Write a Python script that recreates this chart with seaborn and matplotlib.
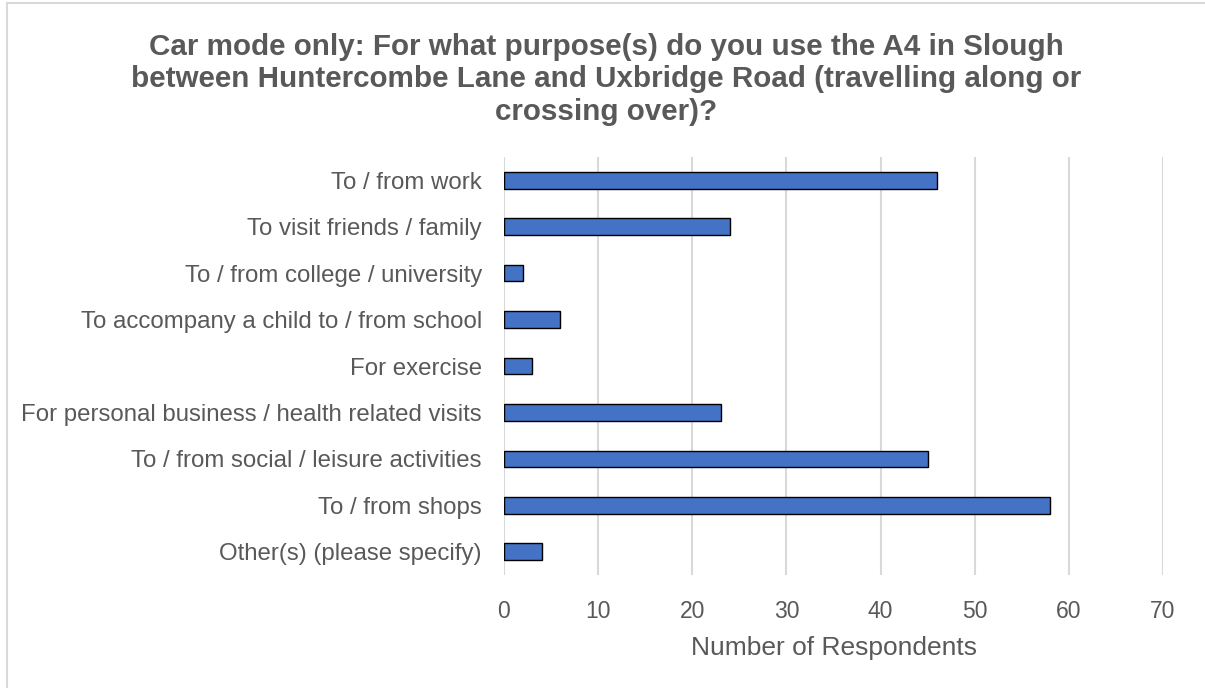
import matplotlib
matplotlib.use("Agg")
import matplotlib.pyplot as plt
import matplotlib.patches as mpatches
import seaborn as sns
import pandas as pd

# Survey responses: purposes for using the A4 by car
purposes = [
    "To / from work",
    "To visit friends / family",
    "To / from college / university",
    "To accompany a child to / from school",
    "For exercise",
    "For personal business / health related visits",
    "To / from social / leisure activities",
    "To / from shops",
    "Other(s) (please specify)",
]
respondents = [46, 24, 2, 6, 3, 23, 45, 58, 4]
x_ticks = [0, 10, 20, 30, 40, 50, 60, 70]

title = ("Car mode only: For what purpose(s) do you use the A4 in Slough\n"
         "between Huntercombe Lane and Uxbridge Road (travelling along or\n"
         "crossing over)?")
x_label = "Number of Respondents"

sns.set_theme(style="white")
plt.rcParams["font.family"] = ["Liberation Sans", "DejaVu Sans"]

TEXT = "#595959"
GRID = "#D9D9D9"
BAR = "#4472C4"

W, H = 1205, 688
fig = plt.figure(figsize=(W / 100, H / 100), dpi=100)
fig.patch.set_facecolor("white")

# plot area in pixel terms
left, right, top, bottom = 504, 1163, 157, 575
ax = fig.add_axes([left / W, 1 - bottom / H, (right - left) / W, (bottom - top) / H])

df = pd.DataFrame({"purpose": purposes, "count": respondents})
sns.barplot(data=df, x="count", y="purpose", orient="h", color=BAR,
            saturation=1, edgecolor="black", linewidth=1.0, width=0.36, ax=ax)

ax.set_xlim(0, 70)
ax.set_xticks(x_ticks)
ax.set_xticklabels([str(t) for t in x_ticks])
ax.grid(axis="x", color=GRID, linewidth=1.5)
ax.grid(axis="y", visible=False)
ax.set_axisbelow(True)
for s in ax.spines.values():
    s.set_visible(False)

ax.tick_params(axis="x", length=0, pad=18, labelsize=16.5, labelcolor=TEXT)
ax.tick_params(axis="y", length=0, pad=16, labelsize=17.3, labelcolor=TEXT)
ax.set_ylabel("")
ax.set_xlabel(x_label, fontsize=19, color=TEXT, labelpad=9)

fig.text(606 / W, 1 - 33 / H, title, ha="center", va="top", fontsize=21.3,
         fontweight="bold", color=TEXT, linespacing=1.2)

# chart area border
fig.patches.append(mpatches.Rectangle((7 / W, -0.1), 1.2, 1.1 - 3 / H,
                                      transform=fig.transFigure, fill=False,
                                      edgecolor=GRID, linewidth=1.5))

fig.savefig("out.png", dpi=100)
